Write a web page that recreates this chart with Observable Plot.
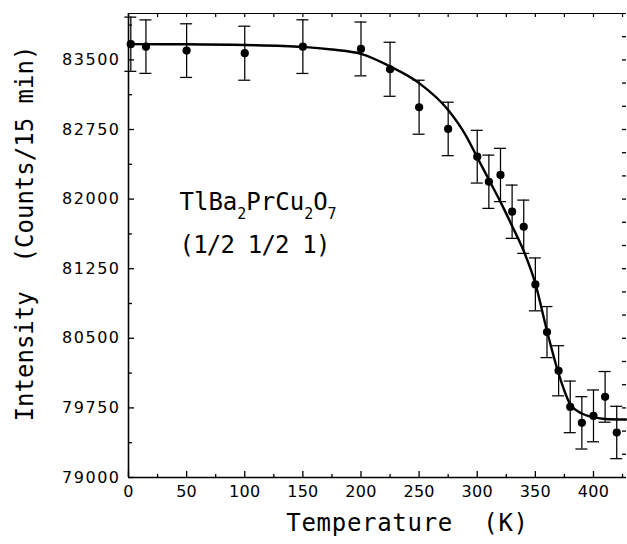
<!DOCTYPE html>
<html>
<head>
<meta charset="utf-8">
<script src="https://cdn.jsdelivr.net/npm/d3@7"></script>
<script src="https://cdn.jsdelivr.net/npm/@observablehq/plot@0.6"></script>
<style>
  html, body { margin: 0; padding: 0; background: #fff; }
  svg text { white-space: pre; }
  g[aria-label="y-axis tick label"] text { letter-spacing: 1.5px; }
  g[aria-label="x-axis tick label"] text { letter-spacing: 0.3px; }
</style>
</head>
<body>
<div id="chart"></div>
<script>
// Measured points: temperature (K), intensity (counts / 15 min), error bar half-length
const temps = [2, 15, 50, 100, 150, 200, 225, 250, 275, 300, 310, 320, 330, 340, 350, 360, 370, 380, 390, 400, 410, 420];
const counts = [83669, 83643, 83600, 83572, 83643, 83618, 83399, 82990, 82756, 82457, 82187, 82260, 81864, 81702, 81081, 80567, 80150, 79761, 79589, 79664, 79869, 79485];
const errors = [292, 288, 289, 291, 289, 290, 291, 291, 288, 284, 287, 287, 287, 287, 285, 275, 270, 278, 282, 279, 273, 282];

// Fitted curve
const fitTemps = [0, 50, 100, 150, 175, 200, 225, 250, 275, 290, 300, 310, 320, 330, 340, 350, 360, 370, 380, 390, 400, 410, 428];
const fitCounts = [83670, 83668, 83660, 83640, 83612, 83565, 83430, 83250, 82960, 82690, 82450, 82210, 81970, 81710, 81440, 81090, 80580, 80120, 79790, 79690, 79650, 79630, 79625];

// Axis ticks
const xTickValues = [0, 50, 100, 150, 200, 250, 300, 350, 400];
const xMinorTicks = [25, 75, 125, 175, 225, 275, 325, 375, 425];
const xTopTicks = [0, 25, 50, 75, 100, 125, 150, 175, 200, 225, 250, 275, 300, 325, 350, 375, 400, 425];
const yTickValues = [79000, 79750, 80500, 81250, 82000, 82750, 83500];
const yTickLabels = ["79000", "79750", "80500", "81250", "82000", "82750", "83500"];
const yMinorTicks = [79375, 80125, 80875, 81625, 82375, 83125, 83875];
const yRightTicks = [79250, 79500, 79750, 80000, 80250, 80500, 80750, 81000, 81250, 81500, 81750, 82000, 82250, 82500, 82750, 83000, 83250, 83500, 83750];

const xLabel = "Temperature  (K)";
const yLabel = "Intensity  (Counts/15 min)";
const compound = "TlBa2PrCu2O7";
const reflection = "(1/2 1/2 1)";

const points = temps.map((t, i) => ({T: t, I: counts[i], e: errors[i]}));
const fit = fitTemps.map((t, i) => ({T: t, I: fitCounts[i]}));

const W = 627, H = 544, mL = 128, mT = 13, mR = 1, mB = 67;
const plotW = W - mL - mR, plotH = H - mT - mB;
const mono = "DejaVu Sans Mono";

const chart = Plot.plot({
  width: W, height: H,
  marginLeft: mL, marginTop: mT, marginRight: mR, marginBottom: mB,
  style: {background: "white", color: "black", fontFamily: "DejaVu Sans", fontSize: "16px"},
  x: {domain: [0, 428.4]},
  y: {domain: [79000, 84000]},
  marks: [
    // frame (left, bottom, top)
    Plot.ruleX([0], {stroke: "black", strokeWidth: 1.6}),
    Plot.ruleY([79000], {stroke: "black", strokeWidth: 1.6}),
    Plot.ruleY([84000], {stroke: "black", strokeWidth: 1.2}),
    // inward ticks
    Plot.tickX(xTickValues, {x: d => d, insetTop: plotH - 6, strokeWidth: 1.3}),
    Plot.tickX(xMinorTicks, {x: d => d, insetTop: plotH - 3, strokeWidth: 1.3}),
    Plot.tickX(xTopTicks, {x: d => d, insetBottom: plotH - 4, strokeWidth: 1.2}),
    Plot.tickY(yTickValues, {y: d => d, insetRight: plotW - 6, strokeWidth: 1.3}),
    Plot.tickY(yMinorTicks, {y: d => d, insetRight: plotW - 4, strokeWidth: 1.3}),
    Plot.tickY(yRightTicks, {y: d => d, insetLeft: plotW - 4, strokeWidth: 1.3}),
    // tick labels
    Plot.axisX(xTickValues, {tickSize: 0, tickPadding: 8, label: null, fontSize: 16}),
    Plot.axisY(yTickValues, {tickSize: 0, tickPadding: 8, label: null, fontSize: 16,
      tickFormat: (d) => yTickLabels[yTickValues.indexOf(d)]}),
    // fit curve
    Plot.line(fit, {x: "T", y: "I", curve: "monotone-x", stroke: "black", strokeWidth: 2.4}),
    // error bars
    Plot.ruleX(points, {x: "T", y1: d => d.I - d.e, y2: d => d.I + d.e, stroke: "black", strokeWidth: 1.25}),
    Plot.ruleY(points, {y: d => d.I + d.e, x1: "T", x2: "T", insetLeft: -6, insetRight: -6, stroke: "black", strokeWidth: 1.25}),
    Plot.ruleY(points, {y: d => d.I - d.e, x1: "T", x2: "T", insetLeft: -6, insetRight: -6, stroke: "black", strokeWidth: 1.25}),
    // points
    Plot.dot(points, {x: "T", y: "I", r: 4.1, fill: "black", stroke: "none"}),
    // annotations
    Plot.text([compound], {frameAnchor: "top-left", dx: 51, dy: 196, textAnchor: "start", lineAnchor: "bottom",
      fontFamily: mono, fontSize: 24, fill: "black"}),
    Plot.text([reflection], {frameAnchor: "top-left", dx: 51, dy: 239, textAnchor: "start", lineAnchor: "bottom",
      fontFamily: mono, fontSize: 24, fill: "black"}),
    // axis titles
    Plot.text([xLabel], {frameAnchor: "bottom", dx: 30, dy: 53, textAnchor: "middle", lineAnchor: "bottom",
      fontFamily: mono, fontSize: 24, fill: "black"}),
    Plot.text([yLabel], {frameAnchor: "left", dx: -96, dy: -12, rotate: -90, textAnchor: "middle", lineAnchor: "bottom",
      fontFamily: mono, fontSize: 24, fill: "black"})
  ]
});

document.getElementById("chart").appendChild(chart);

// subscripts in the compound formula
d3.select(chart).selectAll("text").filter(function() { return this.textContent === compound; })
  .each(function() {
    const t = d3.select(this);
    t.text(null);
    const parts = [["TlBa", false], ["2", true], ["PrCu", false], ["2", true], ["O", false], ["7", true]];
    let sub = false;
    for (const [s, isSub] of parts) {
      const ts = t.append("tspan").text(s);
      if (isSub) { ts.attr("font-size", 15).attr("dy", sub ? 0 : 9); sub = true; }
      else { ts.attr("dy", sub ? -9 : 0); sub = false; }
    }
  });
d3.select(chart).selectAll("text").filter(function() { return this.textContent === reflection; })
  .style("letter-spacing", "-0.8px");
d3.select(chart).selectAll("text").filter(function() { return this.textContent === xLabel; })
  .style("letter-spacing", "0.7px");
</script>
</body>
</html>
